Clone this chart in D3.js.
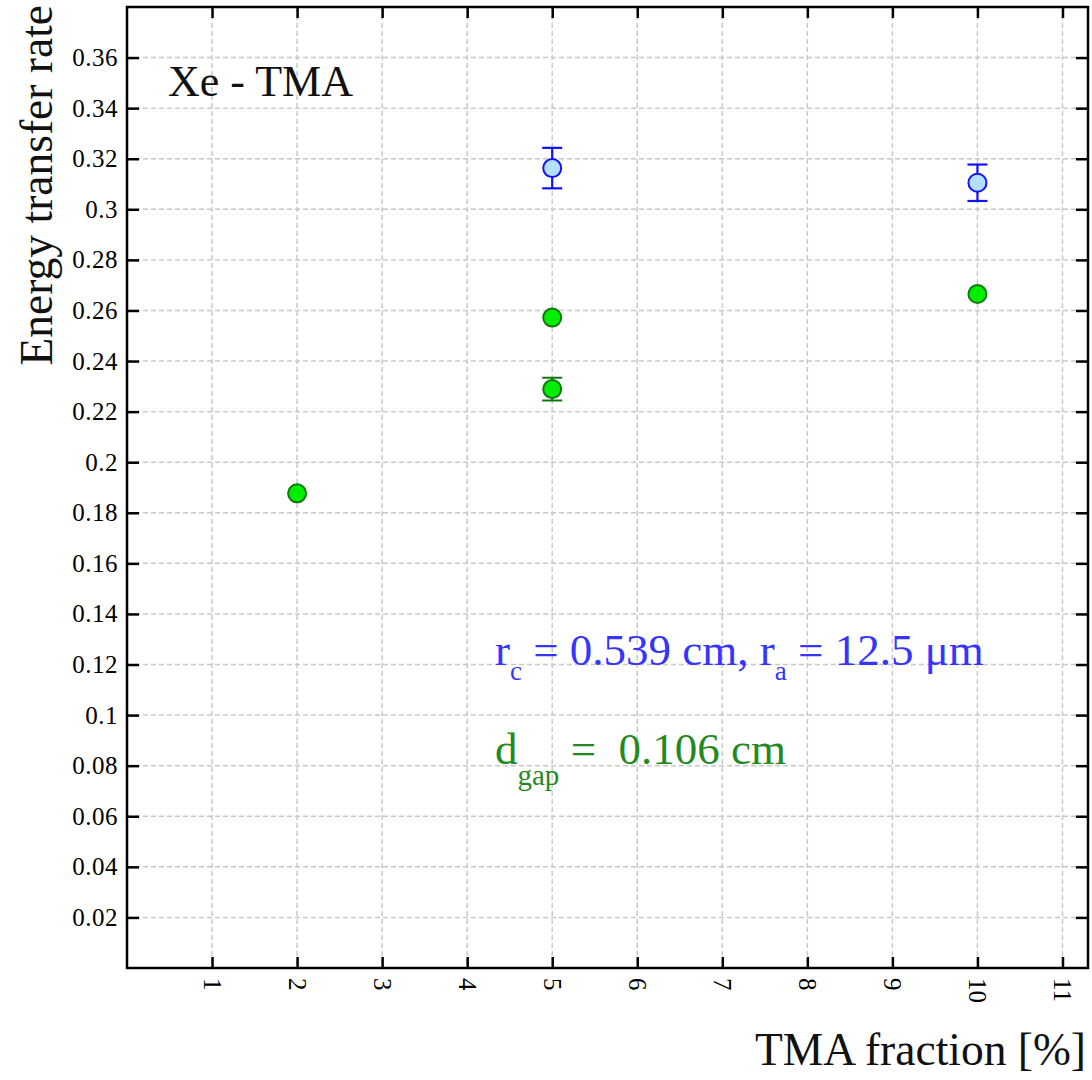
<!DOCTYPE html>
<html><head><meta charset="utf-8">
<script src="https://cdn.jsdelivr.net/npm/d3@7"></script>
<style>body{margin:0;background:#fff}svg{display:block}</style>
</head><body>
<svg id="c" width="1092" height="1080"></svg>
<script>
const xTicks = [1,2,3,4,5,6,7,8,9,10,11];
const yTicks = [0.02,0.04,0.06,0.08,0.1,0.12,0.14,0.16,0.18,0.2,0.22,0.24,0.26,0.28,0.3,0.32,0.34,0.36];
const yTickLabels = ["0.02","0.04","0.06","0.08","0.1","0.12","0.14","0.16","0.18","0.2","0.22","0.24","0.26","0.28","0.3","0.32","0.34","0.36"];
const blueX = [5, 10];
const blueY = [0.3163, 0.3105];
const blueErr = [0.008, 0.0072];
const greenX = [2, 5, 5, 10];
const greenY = [0.1877, 0.2572, 0.2289, 0.2665];
const greenErr = [0, 0, 0.0045, 0];

const svg = d3.select("#c");
const L = 127, R = 1088, T = 7, B = 968;
const x = d3.scaleLinear().domain([0, 11.3]).range([L, R]);
const y = d3.scaleLinear().domain([0, 0.38]).range([B, T]);
const serif = "'Liberation Serif', 'Times New Roman', serif";

// grid
const g = svg.append("g");
g.selectAll("line.gx").data(xTicks).join("line")
  .attr("x1", d => x(d)).attr("x2", d => x(d)).attr("y1", T).attr("y2", B)
  .attr("stroke", "#c8c8c8").attr("stroke-width", 1.5).attr("stroke-dasharray", "5,3");
g.selectAll("line.gy").data(yTicks).join("line")
  .attr("y1", d => y(d)).attr("y2", d => y(d)).attr("x1", L).attr("x2", R)
  .attr("stroke", "#c8c8c8").attr("stroke-width", 1.5).attr("stroke-dasharray", "5,3");

// axes with inward ticks
const ax = svg.append("g").attr("transform", `translate(0,${B})`)
  .call(d3.axisBottom(x).tickValues(xTicks).tickSizeInner(-11).tickSizeOuter(0).tickFormat(d3.format("d")));
ax.attr("font-family", null).attr("font-size", null);
ax.select(".domain").remove();
ax.selectAll(".tick line").attr("stroke", "#000").attr("stroke-width", 2.5);
ax.selectAll(".tick text")
  .style("font-family", serif).style("font-size", "25px").attr("fill", "#000")
  .attr("dy", null).attr("y", null)
  .attr("text-anchor", "start").attr("dominant-baseline", "central")
  .attr("transform", "translate(0,10) rotate(90)");

const axT = svg.append("g").attr("transform", `translate(0,${T})`)
  .call(d3.axisTop(x).tickValues(xTicks).tickSizeInner(-11).tickSizeOuter(0).tickFormat(""));
axT.select(".domain").remove();
axT.selectAll(".tick line").attr("stroke", "#000").attr("stroke-width", 2.5);

const ay = svg.append("g").attr("transform", `translate(${L},0)`)
  .call(d3.axisLeft(y).tickValues(yTicks).tickSizeInner(-12).tickSizeOuter(0).tickPadding(9)
    .tickFormat((d, i) => yTickLabels[i]));
ay.attr("font-family", null).attr("font-size", null);
ay.select(".domain").remove();
ay.selectAll(".tick line").attr("stroke", "#000").attr("stroke-width", 2.5);
ay.selectAll(".tick text").style("font-family", serif).style("font-size", "25px")
  .style("letter-spacing", "0.5px").attr("fill", "#000");

const ayR = svg.append("g").attr("transform", `translate(${R},0)`)
  .call(d3.axisRight(y).tickValues(yTicks).tickSizeInner(-12).tickSizeOuter(0).tickFormat(""));
ayR.select(".domain").remove();
ayR.selectAll(".tick line").attr("stroke", "#000").attr("stroke-width", 2.5);

// frame
svg.append("rect").attr("x", L).attr("y", T).attr("width", R - L).attr("height", B - T)
  .attr("fill", "none").attr("stroke", "#000").attr("stroke-width", 2.5);

// error bars + markers
function series(xs, ys, es, stroke, fill, ew) {
  const data = xs.map((d, i) => ({x: d, y: ys[i], e: es[i]}));
  const eg = svg.append("g").attr("stroke", stroke).attr("stroke-width", ew);
  data.filter(d => d.e > 0).forEach(d => {
    eg.append("line").attr("x1", x(d.x)).attr("x2", x(d.x)).attr("y1", y(d.y + d.e)).attr("y2", y(d.y - d.e));
    eg.append("line").attr("x1", x(d.x) - 10).attr("x2", x(d.x) + 10).attr("y1", y(d.y + d.e)).attr("y2", y(d.y + d.e));
    eg.append("line").attr("x1", x(d.x) - 10).attr("x2", x(d.x) + 10).attr("y1", y(d.y - d.e)).attr("y2", y(d.y - d.e));
  });
  svg.append("g").selectAll("circle").data(data).join("circle")
    .attr("cx", d => x(d.x)).attr("cy", d => y(d.y)).attr("r", 9)
    .attr("fill", fill).attr("stroke", stroke).attr("stroke-width", 2);
}
series(greenX, greenY, greenErr, "#117711", "#00ee00", 2);
series(blueX, blueY, blueErr, "#1111ff", "#b3e0ff", 2.2);

// texts
svg.append("text").attr("x", 168).attr("y", 96).style("font-family", serif).style("font-size", "44px")
  .attr("fill", "#111").text("Xe - TMA");

svg.append("text").attr("transform", "translate(52,5) rotate(-90)").attr("text-anchor", "end")
  .style("font-family", serif).style("font-size", "45.5px").attr("fill", "#111").text("Energy transfer rate");

svg.append("text").attr("x", 1086).attr("y", 1065).attr("text-anchor", "end")
  .style("font-family", serif).style("font-size", "45.5px").attr("fill", "#111").text("TMA fraction [%]");

const t1 = svg.append("text").attr("x", 495).attr("y", 665).style("font-family", serif)
  .style("font-size", "45px").attr("fill", "#3535ff");
t1.append("tspan").text("r");
t1.append("tspan").style("font-size", "27px").attr("dy", 15).text("c");
t1.append("tspan").attr("dy", -15).text("\u00a0=\u00a00.539 cm, r");
t1.append("tspan").style("font-size", "27px").attr("dy", 15).text("a");
t1.append("tspan").attr("dy", -15).text("\u00a0=\u00a012.5 μm");

const t2 = svg.append("text").attr("x", 495).attr("y", 764).style("font-family", serif)
  .style("font-size", "45px").attr("fill", "#238a23");
t2.append("tspan").text("d");
t2.append("tspan").style("font-size", "29px").attr("dy", 21).text("gap");
t2.append("tspan").attr("dy", -21).text("\u00a0=\u00a0\u00a00.106 cm");
</script>
</body></html>
